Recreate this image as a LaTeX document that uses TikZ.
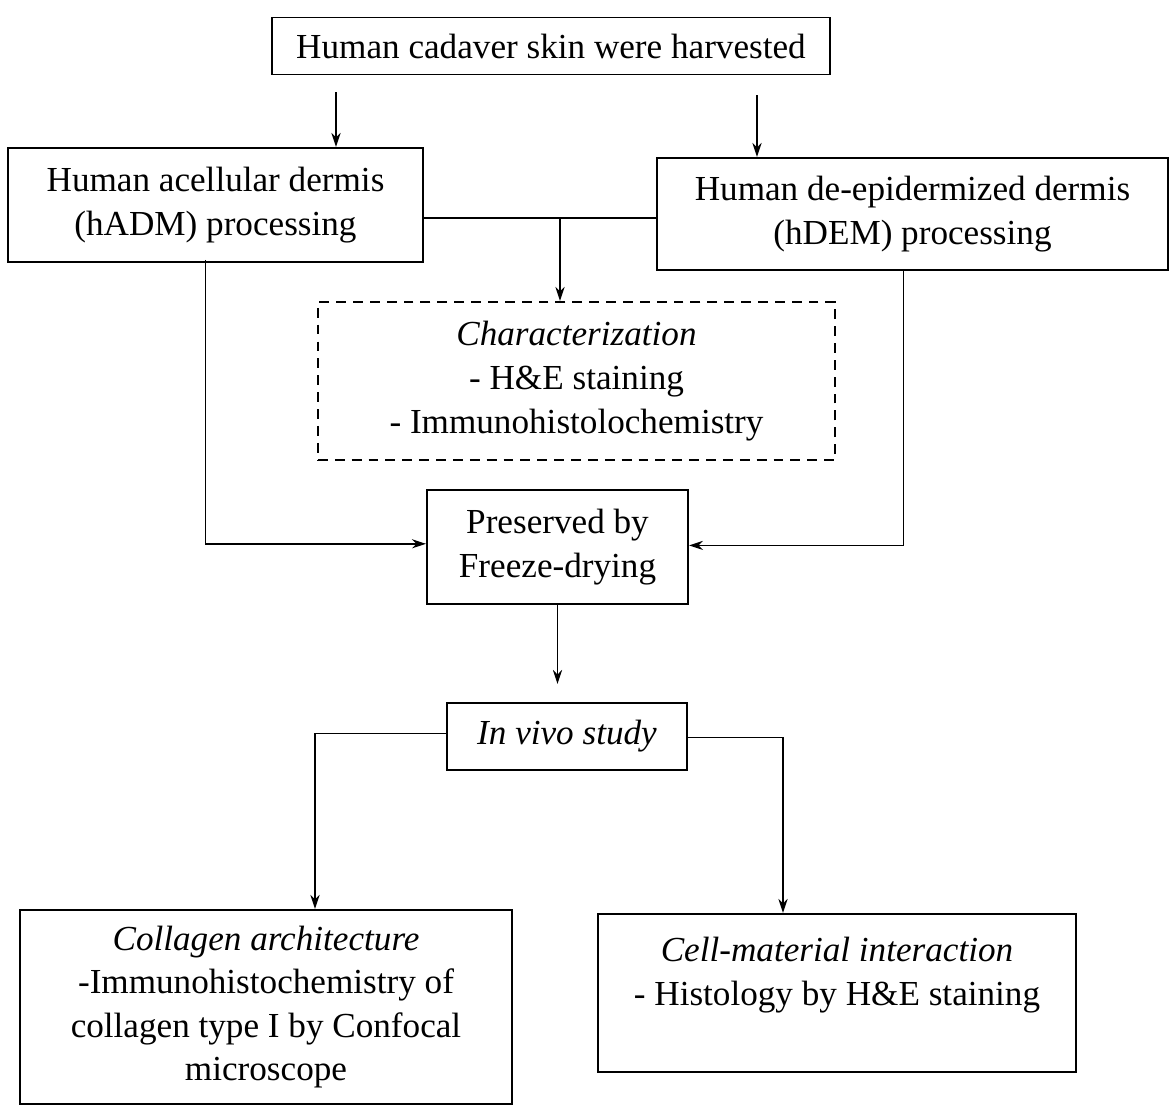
\documentclass[tikz,border=0pt]{standalone}
\usepackage{fontspec}
\setmainfont{Liberation Serif}
\usepackage{tikz}
\usetikzlibrary{positioning,shapes,arrows,arrows.meta,calc}
\tikzstyle{stage} = [rectangle, draw=black, line width=1.4pt, text centered, align=center, font=\fontsize{25}{31}\selectfont]
\tikzstyle{check} = [stage, dash pattern=on 7pt off 5pt]
\tikzstyle{arrow} = [line width=1.1pt,->,>={Stealth[length=10pt,width=6.5pt]}]

\begin{document}
\begin{tikzpicture}[x=0.025cm, y=-0.025cm]
          \useasboundingbox (0,0) rectangle (1173,1107);
          \node (harvest) [stage, minimum width=13.95cm, minimum height=1.425cm] at (551,46) {Human cadaver skin were harvested};
          \node (hadm) [stage, minimum width=10.375cm, minimum height=2.85cm] at (215.5,205) {Human acellular dermis\\(hADM) processing};
          \node (hdem) [stage, minimum width=12.775cm, minimum height=2.8cm] at (912.5,214) {Human de-epidermized dermis\\(hDEM) processing};
          \node (charac) [check, minimum width=12.925cm, minimum height=3.95cm] at (576.5,381) {\textit{Characterization}\\- H\&E staining\\- Immunohistolochemistry};
          \node (preserve) [stage, minimum width=6.525cm, minimum height=2.85cm] at (557.5,547) {Preserved by\\Freeze-drying};
          \node (invivo) [stage, minimum width=6cm, minimum height=1.675cm] at (567,736.5) {\textit{In vivo study}};
          \node (collagen) [stage, minimum width=12.3cm, minimum height=4.85cm] at (266,1007) {\textit{Collagen architecture}\\-Immunohistochemistry of\\collagen type I by Confocal\\microscope};
          \node (cell) [stage, minimum width=11.95cm, minimum height=3.95cm] at (837,993) {\textit{Cell-material interaction}\\- Histology by H\&E staining\\\mbox{}};
          \coordinate (leftdrop) at (336,92);
          \coordinate (rightdrop) at (757,95);
          \coordinate (join) at (560,218);
          \draw [arrow] (leftdrop) -- (leftdrop |- hadm.north);
          \draw [arrow] (rightdrop) -- (rightdrop |- hdem.north);
          \draw [line width=1.1pt] (hadm.east |- join) -- (hdem.west |- join);
          \draw [arrow] (join) -- (join |- charac.north);
          \draw [arrow] ([xshift=-0.25cm, yshift=0.08cm]hadm.south) |- ([yshift=0.08cm]preserve.west);
          \draw [arrow] ([xshift=-0.225cm]hdem.south) |- ([yshift=0.04cm]preserve.east);
          \draw [arrow, shorten >=0.45cm] (preserve.south) -- (preserve.south |- invivo.north);
          \draw [arrow] ([yshift=0.08cm]invivo.west) -| ($(collagen.north)+(49,0)$);
          \draw [arrow] ([yshift=-0.02cm]invivo.east) -| ($(cell.north)+(-54,0)$);
        \end{tikzpicture}
\end{document}
